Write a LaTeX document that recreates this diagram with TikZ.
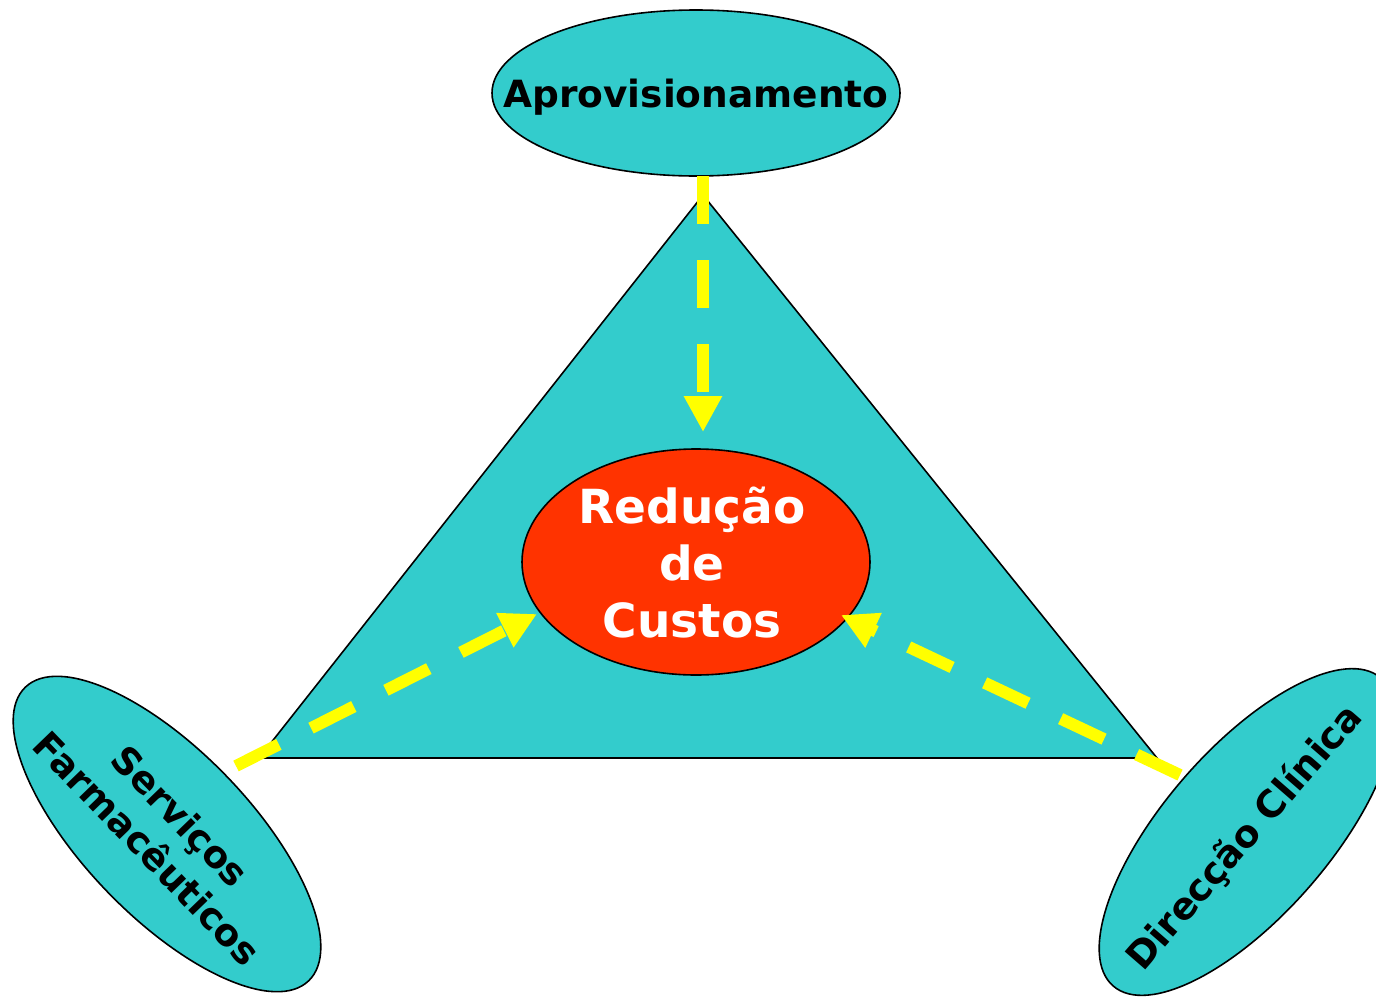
\documentclass[tikz,border=0pt]{standalone}
\usepackage{fontspec}
\setmainfont{DejaVu Sans}
\usetikzlibrary{shapes.geometric,arrows.meta}
\definecolor{teal1}{HTML}{33CCCC}
\definecolor{red1}{HTML}{FF3300}
\definecolor{yel1}{HTML}{FFFF00}
\tikzset{
  ell/.style={ellipse, draw=black, line width=1.6pt, fill=teal1, inner sep=0pt, minimum width=408pt, minimum height=166pt},
  lbl/.style={font=\bfseries\fontsize{37.5}{45}\selectfont, text=black, align=center, inner sep=0pt},
  tri/.style={fill=teal1, draw=black, line width=1.6pt, line join=miter},
  yarrow/.style={draw=yel1, line width=12pt, dash pattern=on 48pt off 36pt, -{Triangle[width=36pt,length=36pt]}, yel1}
}
\begin{document}
\begin{tikzpicture}[x=1pt,y=-1pt]
\useasboundingbox (0,0) rectangle (1376,999);
\clip (0,0) rectangle (1376,999);
% triangle
\coordinate (tA) at (703,195);
\coordinate (tB) at (259,758);
\coordinate (tC) at (1157,758);
\filldraw[tri] (tA) -- (tB) -- (tC) -- cycle;
% centre
\node[ell, fill=red1, minimum width=348pt, minimum height=226pt] (red) at (696,562) {};
\node[lbl, font=\bfseries\fontsize{47}{57}\selectfont, text=white] (redt) at (692,563) {Redução\\de\\Custos};
% top
\node[ell] (top) at (696,93) {};
\node[lbl] (topt) at (696,97) {Aprovisionamento};
% left
\node[ell, rotate=-46] (sf) at (167,834) {};
\node[lbl, rotate=-46, font=\bfseries\fontsize{37.5}{46}\selectfont] (sft) at (164,832) {Serviços\\Farmacêuticos};
% right
\node[ell, rotate=49] (dc) at (1247,832) {};
\node[lbl, rotate=49] (dct) at (1245,838) {Direcção Clínica};
% arrows
\coordinate (a1s) at (703,176);
\coordinate (a1e) at (703,432);
\coordinate (a2s) at (236,766);
\coordinate (a2e) at (537,614);
\coordinate (a3s) at (1180,775);
\coordinate (a3e) at (841,615);
\draw[yarrow] (a1s) -- (a1e);
\draw[yarrow] (a2s) -- (a2e);
\draw[yarrow] (a3s) -- (a3e);
\end{tikzpicture}
\end{document}
